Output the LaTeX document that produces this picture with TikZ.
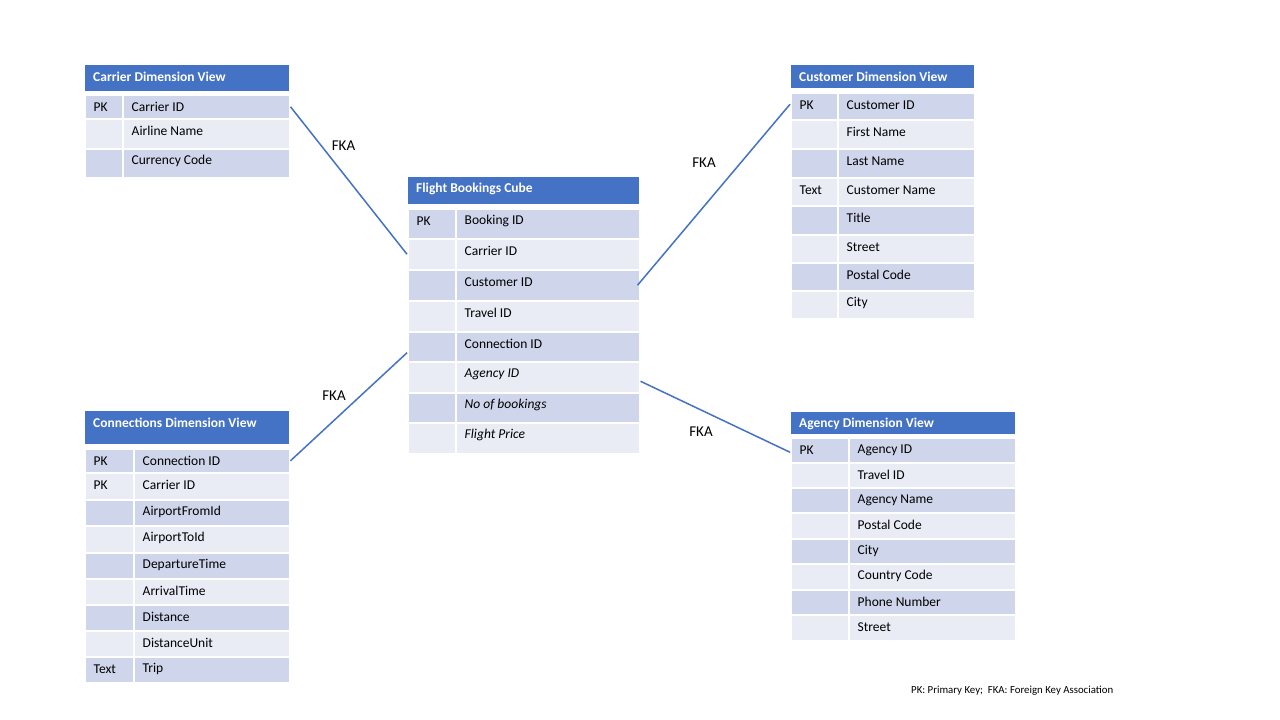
\documentclass[tikz,border=0pt]{standalone}
\usepackage{fontspec}
\setmainfont{Carlito}
\definecolor{hdrblue}{HTML}{4472C4}
\definecolor{rowdark}{HTML}{CFD5EA}
\definecolor{rowlight}{HTML}{E9EBF5}
\tikzset{
  cellbox/.style={draw=white, line width=1.5pt, inner sep=0pt, anchor=north west},
  hdrbox/.style={fill=hdrblue, draw=white, line width=1pt, inner sep=0pt, anchor=north west},
  celltext/.style={anchor=west, inner sep=0pt, font=\fontsize{13.5}{15}\selectfont, text=black},
  hdrtext/.style={anchor=west, inner sep=0pt, font=\fontsize{13.5}{15}\selectfont\bfseries, text=white},
  fkaline/.style={draw=hdrblue, line width=1.5pt},
  fkatext/.style={inner sep=0pt, font=\fontsize{15}{17}\selectfont, text=black},
}
% header: name, left, right, top, bottom, title
\newcommand\erhead[6]{%
  \node[hdrbox, minimum width=#3-#2, minimum height=#5-#4] (#1-h) at (#2,#4) {};
  \node[hdrtext] (#1-ht) at (#2+9,#4+13) {#6};
}
% rows: name, left, divider, right, list of top/bottom/key/field
\newcommand\errows[5]{%
  \foreach \ya/\yb/\k/\f [count=\i] in {#5} {
    \ifodd\i \def\rc{rowdark}\else\def\rc{rowlight}\fi
    \node[cellbox, fill=\rc, minimum width=#3-#2, minimum height=\yb-\ya] (#1-k\i) at (#2,\ya) {};
    \node[cellbox, fill=\rc, minimum width=#4-#3, minimum height=\yb-\ya] (#1-f\i) at (#3,\ya) {};
    \ifx\k\empty\else
      \node[celltext] (#1-kt\i) at (#2+9.5,\ya+13) {\k};
    \fi
    \node[celltext] (#1-ft\i) at (#3+9.5,\ya+13) {\f};
  }%
}
\begin{document}
\begin{tikzpicture}[x=1pt,y=-1pt]
\useasboundingbox[fill=white] (0,0) rectangle (1280,720);

% Carrier Dimension View
\erhead{car}{84}{289}{64}{91}{Carrier Dimension View}
\errows{car}{84}{122}{289}{94/118/PK/Carrier ID, 118/148//Airline Name, 148/177//Currency Code}

% Flight Bookings Cube
\erhead{fb}{407}{639}{176}{204}{Flight Bookings Cube}
\errows{fb}{407}{455}{639}{208/238/PK/Booking ID, 238/269//Carrier ID, 269/300//Customer ID, 300/331//Travel ID, 331/361//Connection ID, 361/392//\textit{Agency ID}, 392/422//\textit{No of bookings}, 422/453//\textit{Flight Price}}

% Customer Dimension View
\erhead{cu}{790}{974}{64}{88}{Customer Dimension View}
\errows{cu}{790}{837}{974}{92/119/PK/Customer ID, 119/148//First Name, 148/177//Last Name, 177/205/Text/Customer Name, 205/234//Title, 234/262//Street, 262/290//Postal Code, 290/318//City}

% Connections Dimension View
\erhead{con}{84}{289}{410}{444}{Connections Dimension View}
\errows{con}{84}{133}{289}{448/472/PK/Connection ID, 472/499/PK/Carrier ID, 499/525//AirportFromId, 525/552//AirportToId, 552/578//DepartureTime, 578/604//ArrivalTime, 604/630//Distance, 630/656//DistanceUnit, 656/682/Text/Trip}

% Agency Dimension View
\erhead{ag}{790}{1015}{411}{434}{Agency Dimension View}
\errows{ag}{790}{848}{1015}{437/462/PK/Agency ID, 462/487//Travel ID, 487/512//Agency Name, 512/538//Postal Code, 538/563//City, 563/589//Country Code, 589/614//Phone Number, 614/640//Street}

% connectors
\draw[fkaline] (car-f1.east) -- (fb-k2.west);
\draw[fkaline] (con-f1.east) -- ([yshift=-6pt]fb-k5.west);
\draw[fkaline] ([xshift=-3pt]fb-f3.east) -- ([yshift=2pt]cu-k1.west);
\draw[fkaline] ([yshift=-4pt]fb-f6.east) -- ([yshift=-2pt]ag-k1.west);

% labels
\node[fkatext] (l1) at (343.5,146) {FKA};
\node[fkatext] (l2) at (334,396) {FKA};
\node[fkatext] (l3) at (704,163) {FKA};
\node[fkatext] (l4) at (701,432) {FKA};

\node[anchor=west, inner sep=0pt, font=\fontsize{10.8}{12}\selectfont] (note) at (911,691) {PK: Primary Key;\ \ FKA: Foreign Key Association};
\end{tikzpicture}
\end{document}
